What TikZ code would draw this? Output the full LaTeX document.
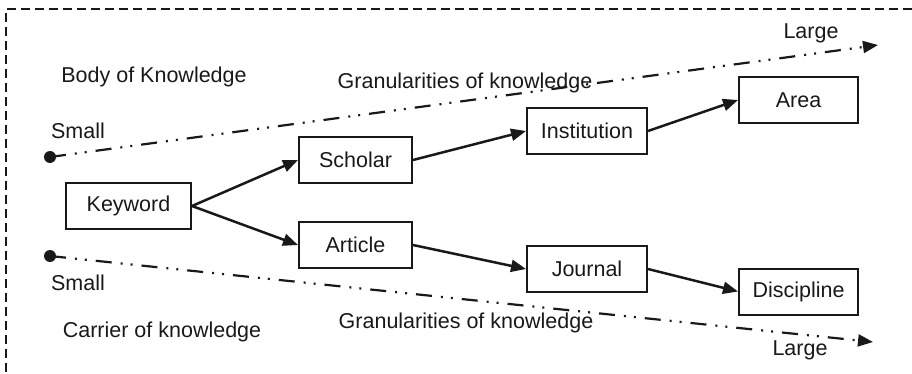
\documentclass[tikz,border=0pt]{standalone}
\usepackage{fontspec}
\setmainfont{Liberation Sans}
\usetikzlibrary{arrows.meta}
\begin{document}
\begin{tikzpicture}[x=1pt,y=-1pt,
  every node/.style={font=\fontsize{21.5}{24}\selectfont, text=black!90},
  box/.style={draw=black!90, line width=2pt, inner sep=0pt, minimum height=46pt},
  flow/.style={draw=black!90, line width=2.5pt, -{Triangle[length=15pt,width=12pt]}},
  granline/.style={draw=black!90, line width=2.2pt,
    dash pattern=on 16pt off 9pt on 2pt off 8pt on 2pt off 9pt,
    -{Triangle[length=15pt,width=12pt]}},
  dotmark/.style={circle, fill=black!90, inner sep=0pt, minimum size=12pt},
  lbl/.style={inner sep=0pt}]
\useasboundingbox (0,0) rectangle (912,374);

% outer frame (runs off to the right and bottom)
\draw[black!90, line width=1.4pt, dash pattern=on 9pt off 5pt]
  (6,400) -- (6,9) -- (930,9);

% category labels
\node[lbl] at (154,77) {Body of Knowledge};
\node[lbl] at (162,332) {Carrier of knowledge};

% granularity scales
\node[dotmark] (s1) at (50,157) {};
\coordinate (e1) at (878,45);
\node[dotmark] (s2) at (50,256) {};
\coordinate (e2) at (873,342);
\draw[granline] (s1.center) -- (e1);
\draw[granline] (s2.center) -- (e2);

\node[lbl] at (78,131) {Small};
\node[lbl] at (811,33) {Large};
\node[lbl] at (465,83) {Granularities of knowledge};
\node[lbl] at (78,283) {Small};
\node[lbl] at (800,350) {Large};
\node[lbl] at (466,323) {Granularities of knowledge};

% entity boxes
\node[box, minimum width=125pt] (kw) at (128.5,206) {Keyword};
\node[box, minimum width=113pt] (sc) at (355.5,160) {Scholar};
\node[box, minimum width=113pt] (ar) at (355.5,245) {Article};
\node[box, minimum width=120pt] (in) at (587,131) {Institution};
\node[box, minimum width=120pt] (jo) at (587,269) {Journal};
\node[box, minimum width=119pt] (aa) at (798.5,100) {Area};
\node[box, minimum width=119pt] (di) at (798.5,291.5) {Discipline};

% relations
\draw[flow] (kw.east) -- (sc.west);
\draw[flow] (kw.east) -- (ar.west);
\draw[flow] (sc.east) -- (in.west);
\draw[flow] (in.east) -- (aa.west);
\draw[flow] (ar.east) -- (jo.west);
\draw[flow] (jo.east) -- (di.west);
\end{tikzpicture}
\end{document}
